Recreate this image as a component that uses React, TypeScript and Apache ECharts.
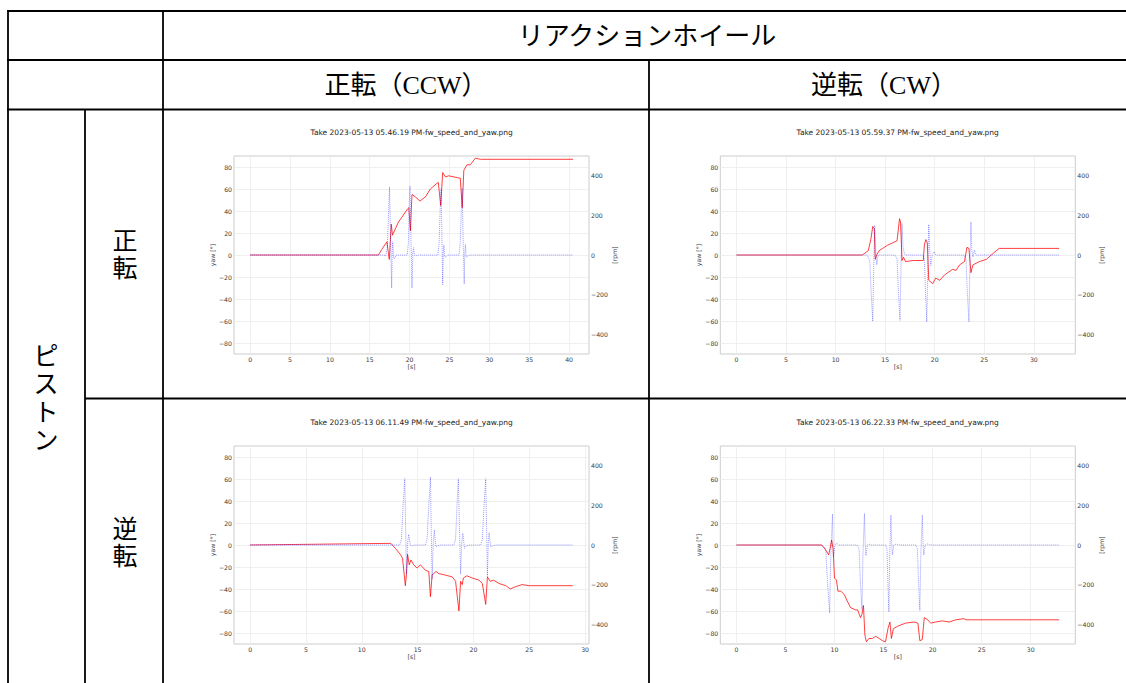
import React, { useEffect, useRef } from "react";
import * as echarts from "echarts";

// ---------- table texts ----------
const headerTop = "リアクションホイール";
const colHeaders = ["正転（CCW）", "逆転（CW）"];
const rowGroup = "ピストン";
const rowHeaders = ["正転", "逆転"];

// ---------- chart titles ----------
const titles = [
  "Take 2023-05-13 05.46.19 PM-fw_speed_and_yaw.png",
  "Take 2023-05-13 05.59.37 PM-fw_speed_and_yaw.png",
  "Take 2023-05-13 06.11.49 PM-fw_speed_and_yaw.png",
  "Take 2023-05-13 06.22.33 PM-fw_speed_and_yaw.png",
];

// ---------- tick labels ----------
const xTicks40 = [0, 5, 10, 15, 20, 25, 30, 35, 40];
const xTicks30 = [0, 5, 10, 15, 20, 25, 30];
const yawTicks = [-80, -60, -40, -20, 0, 20, 40, 60, 80];
const rpmTicks = [-400, -200, 0, 200, 400];

// ---------- chart 1 (05.46.19) ----------
const yawT1 = [0, 16.1, 16.5, 17.15, 17.45, 17.7, 17.85, 18.6, 19.0, 19.75, 19.9, 20.1, 20.3, 20.7, 21.3, 22.0, 22.6, 23.4, 23.6, 23.9, 24.15, 24.5, 24.9, 26.2, 26.35, 26.6, 26.8, 27.2, 27.6, 28.25, 28.9, 40.5];
const yawV1 = [0, 0, 5, 12, -4, 28, 18, 30, 34, 42, 43, 22, 55, 53, 49, 53, 60, 65, 66, 45, 75, 71, 72, 70, 70, 43, 77, 82, 82, 88, 87, 87];
const rpmT1 = [0, 16.8, 17.0, 17.2, 17.35, 17.48, 17.6, 17.75, 17.82, 17.88, 17.98, 18.1, 18.3, 19.6, 19.7, 19.85, 19.95, 20.05, 20.15, 20.3, 20.4, 20.5, 20.6, 20.8, 21.0, 23.45, 23.55, 23.7, 23.85, 23.95, 24.05, 24.15, 24.22, 24.3, 24.4, 24.55, 24.8, 26.1, 26.2, 26.35, 26.5, 26.6, 26.7, 26.85, 26.92, 27.0, 27.1, 27.3, 27.6, 40.5];
const rpmV1 = [0, 0, -5, 40, 200, 343, 100, -167, 20, 67, -10, -20, 0, 0, 0, 60, 250, 348, 120, -167, 10, 37, 0, -5, 0, 0, 0, 60, 250, 335, 100, -150, 10, 50, -10, -10, 0, 0, 0, 60, 250, 338, 100, -147, 10, 53, -10, -5, 0, 0];

// ---------- chart 2 (05.59.37) ----------
const yawT2 = [0, 12.7, 13.3, 13.55, 13.75, 13.9, 14.0, 14.15, 14.4, 14.75, 15.25, 15.75, 16.2, 16.45, 16.55, 16.7, 16.85, 17.05, 17.8, 18.85, 18.95, 19.1, 19.25, 19.4, 19.8, 20.1, 20.5, 21.0, 21.8, 22.15, 22.5, 23.0, 23.25, 23.45, 23.65, 23.85, 24.5, 25.2, 25.7, 26.5, 32.55];
const yawV2 = [0, 0, 4, 14, 26, 24, -4, 0, 4, 6, 9, 11, 13, 33, 30, -5, -2, -6, -5, -5, 9, 14, 11, -23, -26, -21, -23, -18, -13, -14, -9, -6, 7, 6, -16, -9, -6, -4, 0, 6, 6];
const rpmT2 = [0, 13.2, 13.45, 13.6, 13.75, 13.85, 13.95, 14.05, 14.15, 14.3, 16.0, 16.2, 16.35, 16.5, 16.6, 16.7, 16.8, 16.9, 17.0, 18.8, 18.95, 19.08, 19.2, 19.3, 19.4, 19.5, 19.6, 19.75, 19.95, 20.1, 22.95, 23.15, 23.3, 23.45, 23.55, 23.65, 23.75, 23.85, 24.0, 24.15, 32.55];
const rpmV2 = [0, 0, -30, -200, -335, -50, 150, 20, -50, 0, 0, -20, -200, -330, -50, 159, 40, 17, 0, 0, -20, -200, -338, -50, 154, 20, -54, 0, 17, 0, 0, -20, -200, -338, -50, 167, 20, -10, 25, 0, 0];

// ---------- chart 3 (06.11.49) ----------
const yawT3 = [0, 12.6, 13.0, 13.45, 13.65, 13.9, 14.0, 14.1, 14.25, 14.4, 14.65, 14.95, 15.25, 15.7, 16.0, 16.15, 16.3, 16.45, 16.65, 16.9, 17.35, 18.1, 18.4, 18.7, 18.85, 19.0, 19.1, 19.4, 19.9, 20.5, 20.8, 21.1, 21.25, 21.5, 21.8, 22.3, 22.9, 23.3, 23.75, 24.35, 25.0, 28.9];
const yawV3 = [0, 1.5, -3, -8.5, -12, -37, -27, -8.5, -18, -13.6, -18, -21, -18, -23, -24, -47, -27, -26, -24, -26, -27, -29, -33, -60, -33, -36, -30, -28, -30, -32, -35, -54, -29, -33, -32, -35, -37, -40, -38, -36, -37, -37];
const rpmT3 = [0, 13.4, 13.55, 13.7, 13.85, 13.93, 14.0, 14.1, 14.2, 14.35, 14.5, 14.7, 15.7, 15.85, 16.0, 16.15, 16.22, 16.3, 16.4, 16.5, 16.62, 16.8, 17.0, 18.25, 18.4, 18.53, 18.65, 18.75, 18.85, 18.95, 19.05, 19.2, 19.35, 19.6, 20.65, 20.8, 20.95, 21.1, 21.18, 21.25, 21.33, 21.4, 21.55, 21.75, 22.0, 28.9];
const rpmV3 = [0, 0, 30, 200, 335, 80, -147, 10, 54, 0, -5, 0, 0, 30, 200, 343, 80, -172, 10, 75, -8, -5, 0, 0, 30, 200, 335, 80, -147, 10, 59, -17, -5, 0, 0, 30, 200, 335, 80, -159, 10, 62, -8, -5, 0, 0];

// ---------- chart 4 (06.22.33) ----------
const yawT4 = [0, 8.7, 9.1, 9.4, 9.55, 9.7, 9.85, 10.0, 10.2, 10.35, 10.65, 11.0, 11.3, 11.65, 12.15, 12.35, 12.65, 12.8, 12.95, 13.1, 13.25, 13.5, 13.85, 14.2, 14.55, 14.9, 15.2, 15.45, 15.65, 15.8, 16.0, 16.4, 17.25, 18.1, 18.5, 18.7, 18.95, 19.15, 19.5, 19.8, 20.3, 21.0, 21.7, 22.35, 23.2, 23.4, 32.9];
const yawV4 = [0, 0, -4.5, -9, -3, 4.5, -3, -30, -32, -42, -42, -45, -51, -57, -59, -59, -66, -63, -55, -82, -88, -85, -85, -83, -85, -87, -88, -76, -70, -85, -76, -74, -71, -70, -71, -87, -86, -66, -68, -71, -70, -69, -70, -68, -67, -68, -68];
const rpmT4 = [0, 8.6, 8.9, 9.1, 9.3, 9.5, 9.62, 9.8, 9.85, 9.9, 10.05, 10.2, 10.4, 12.3, 12.5, 12.65, 12.8, 12.9, 13.05, 13.12, 13.2, 13.35, 13.5, 13.7, 15.2, 15.35, 15.45, 15.55, 15.63, 15.75, 15.82, 15.9, 16.05, 16.3, 16.6, 18.3, 18.45, 18.58, 18.7, 18.8, 18.95, 19.02, 19.1, 19.25, 19.5, 19.8, 32.9];
const rpmV4 = [0, 0, -10, -20, -200, -343, -50, 156, 20, -59, 0, 10, 0, 0, -20, -200, -326, -50, 159, 20, -54, 0, 5, 0, 0, -20, -200, -338, -50, 151, 20, -50, 0, 5, 0, 0, -20, -200, -331, -50, 151, 20, -50, 0, 5, 0, 0];

// ---------- x ranges (matplotlib 5% margins) ----------
const xRanges = [
  [-2.025, 42.5],
  [-1.63, 34.18],
  [-1.445, 30.35],
  [-1.645, 34.55],
];

const zip = (t: number[], v: number[]) => t.map((x, i) => [x, v[i]]);
const minus = (v: number) => String(v).replace("-", "\u2212");

const panels = [
  { yawT: yawT1, yawV: yawV1, rpmT: rpmT1, rpmV: rpmV1, xTicks: xTicks40 },
  { yawT: yawT2, yawV: yawV2, rpmT: rpmT2, rpmV: rpmV2, xTicks: xTicks30 },
  { yawT: yawT3, yawV: yawV3, rpmT: rpmT3, rpmV: rpmV3, xTicks: xTicks30 },
  { yawT: yawT4, yawV: yawV4, rpmT: rpmT4, rpmV: rpmV4, xTicks: xTicks30 },
];

// layout
const gridPos = [
  { left: 234, top: 156 },
  { left: 720.3, top: 156 },
  { left: 234, top: 446 },
  { left: 720.3, top: 446 },
];
const titlePos = [
  { x: 411.7, y: 132 },
  { x: 897.7, y: 132 },
  { x: 411.7, y: 422 },
  { x: 897.7, y: 422 },
];

const FONT = "DejaVu Sans";
const CJK = '"Liberation Serif", "Noto Sans CJK JP", serif';

export default function App() {
  const ref = useRef<HTMLDivElement>(null);

  useEffect(() => {
    if (!ref.current) return;
    const chart = echarts.init(ref.current, null, { renderer: "svg" });

    const grid: any[] = [];
    const xAxis: any[] = [];
    const yAxis: any[] = [];
    const series: any[] = [];
    const labelStyle = { fontFamily: FONT, fontSize: 6.2, color: "#3a3a3a" };

    panels.forEach((p, i) => {
      grid.push({
        left: gridPos[i].left,
        top: gridPos[i].top,
        width: 355,
        height: 198,
        show: true,
        borderColor: "#cccccc",
        borderWidth: 1,
        backgroundColor: "#ffffff",
      });
      xAxis.push({
        type: "value",
        gridIndex: i,
        min: xRanges[i][0],
        max: xRanges[i][1],
        axisLine: { show: false },
        axisTick: { show: false, customValues: p.xTicks },
        axisLabel: { ...labelStyle, customValues: p.xTicks, margin: 2.5, formatter: minus },
        splitLine: { show: true, lineStyle: { color: "#ebebeb", width: 0.8 } },
        name: "[s]",
        nameLocation: "middle",
        nameGap: 9,
        nameTextStyle: labelStyle,
      });
      yAxis.push({
        type: "value",
        gridIndex: i,
        position: "left",
        min: -90,
        max: 90,
        axisLine: { show: false },
        axisTick: { show: false, customValues: yawTicks },
        axisLabel: { ...labelStyle, customValues: yawTicks, margin: 2, formatter: minus },
        splitLine: { show: true, lineStyle: { color: "#ebebeb", width: 0.8 } },
        name: "yaw [°]",
        nameLocation: "middle",
        nameGap: 15,
        nameTextStyle: labelStyle,
      });
      yAxis.push({
        type: "value",
        gridIndex: i,
        position: "right",
        min: -500,
        max: 500,
        axisLine: { show: false },
        axisTick: { show: false, customValues: rpmTicks },
        axisLabel: { ...labelStyle, customValues: rpmTicks, margin: 2, formatter: minus },
        splitLine: { show: false },
        name: "[rpm]",
        nameLocation: "middle",
        nameGap: 20,
        nameTextStyle: labelStyle,
      });
      series.push({
        type: "line",
        xAxisIndex: i,
        yAxisIndex: 2 * i,
        data: zip(p.yawT, p.yawV),
        showSymbol: false,
        silent: true,
        lineStyle: { color: "rgba(255,0,0,0.75)", width: 1 },
      });
      series.push({
        type: "line",
        xAxisIndex: i,
        yAxisIndex: 2 * i + 1,
        data: zip(p.rpmT, p.rpmV),
        showSymbol: false,
        silent: true,
        lineStyle: { color: "rgba(0,0,255,0.4)", width: 1, type: [1, 1] },
      });
    });

    const stroke = { stroke: "#000000", lineWidth: 1.8 };
    const ln = (x1: number, y1: number, x2: number, y2: number) => ({
      type: "line",
      silent: true,
      shape: { x1, y1, x2, y2 },
      style: stroke,
    });
    const txt = (text: string, x: number, y: number, size: number, family: string, color = "#000") => ({
      type: "text",
      x,
      y,
      silent: true,
      style: {
        text,
        fontSize: size,
        fontFamily: family,
        fill: color,
        align: "center",
        verticalAlign: "middle",
        textAlign: "center",
        textVerticalAlign: "middle",
      },
    });
    // vertical text: one element per character
    const vtxt = (text: string, x: number, yCenter: number, size: number, pitch: number) => {
      const chars = text.split("");
      const y0 = yCenter - ((chars.length - 1) * pitch) / 2;
      return chars.map((c, k) => txt(c, x, y0 + k * pitch, size, CJK));
    };

    const graphic: any[] = [
      ln(7, 11, 1126, 11),
      ln(7, 60, 1126, 60),
      ln(7, 109.5, 1126, 109.5),
      ln(85, 398.5, 1126, 398.5),
      ln(8, 11, 8, 683),
      ln(163, 11, 163, 683),
      ln(649, 60, 649, 683),
      ln(85, 109.5, 85, 683),
      txt(headerTop, 647, 36, 26, CJK),
      txt(colHeaders[0], 406, 85, 26, CJK),
      txt(colHeaders[1], 884, 85, 26, CJK),
      ...vtxt(rowGroup, 46, 398, 25, 28),
      ...vtxt(rowHeaders[0], 125, 255, 25, 27),
      ...vtxt(rowHeaders[1], 125, 543, 25, 27),
    ];
    titles.forEach((t, i) => {
      graphic.push(txt(t, titlePos[i].x, titlePos[i].y, 7.5, FONT, "#222"));
    });

    chart.setOption({
      animation: false,
      backgroundColor: "#ffffff",
      grid,
      xAxis,
      yAxis,
      series,
      graphic,
    });

    return () => chart.dispose();
  }, []);

  return (
    <div
      ref={ref}
      style={{ position: "absolute", left: 0, top: 0, width: 1126, height: 683, background: "#fff" }}
    />
  );
}
